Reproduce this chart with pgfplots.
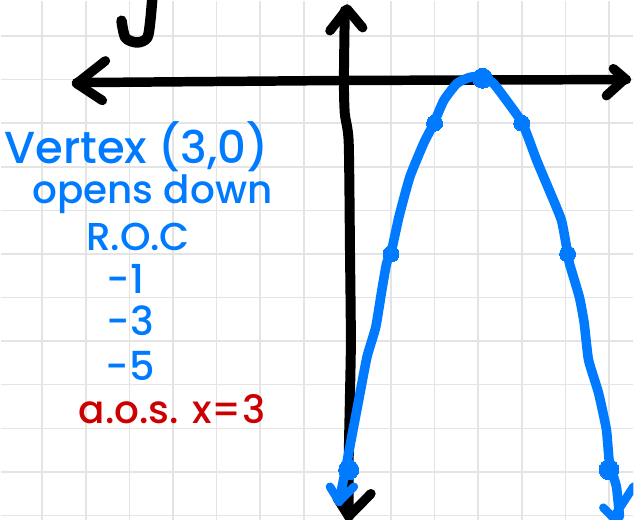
\documentclass[border=0pt]{standalone}
\usepackage{pgfplots}
\pgfplotsset{compat=1.18}
\usepackage{fontspec}
\setmainfont{Poppins Medium}
\definecolor{pen}{RGB}{0,122,255}
\definecolor{redpen}{RGB}{204,0,0}
\definecolor{paper}{RGB}{228,228,228}
\newcommand{\hand}[1]{\fontsize{#1}{#1}\selectfont}
\begin{document}
\begin{tikzpicture}
\begin{axis}[
  scale only axis, width=634pt, height=520pt,
  xmin=-7.95, xmax=6.556, ymin=-10.092, ymax=1.808,
  xtick={-7,...,6}, ytick={-10,...,1},
  xticklabels={}, yticklabels={},
  tick label style={overlay},
  major tick length=0pt,
  axis line style={draw=none},
  grid=major,
  grid style={paper, line width=1.5pt},
  every axis plot/.append style={line cap=round, line join=round},
]
% black axes, drawn by hand
\addplot[black, line width=9.5pt] coordinates {(-6.21,-0.07) (0,-0.02) (6.40,0)};
\addplot[black, line width=9.5pt] coordinates {(-5.55,0.43) (-6.21,-0.09) (-5.62,-0.48)};
\addplot[black, line width=9.5pt] coordinates {(6.10,0.25) (6.37,0.02) (5.94,-0.37)};
\addplot[black, line width=10pt, smooth, tension=0.4] coordinates {(-0.06,1.58) (-0.08,-0.02) (-0.06,-0.78) (0.03,-1.44) (0.06,-3.98) (0.08,-5.97) (0.06,-7.19) (0.03,-8.72) (0.03,-10.02)};
\addplot[black, line width=9.5pt] coordinates {(-0.40,1.12) (-0.01,1.62) (0.35,1.19)};
\addplot[black, line width=9.5pt] coordinates {(-0.24,-9.59) (0.03,-10.02) (0.54,-9.50)};
% the tail of the y at the top
\addplot[black, line width=10.5pt, smooth] coordinates {(-4.47,1.92) (-4.52,1.35) (-4.59,0.96) (-4.82,0.85) (-5.09,0.96) (-5.18,1.35)};
% parabola
\addplot[pen, line width=9.5pt, smooth, tension=0.3] coordinates {
  (-0.19,-9.68) (-0.03,-8.88) (0.10,-8.19) (0.26,-7.35) (0.45,-6.36) (0.65,-5.68)
  (0.79,-4.83) (0.90,-4.21) (1.00,-3.98) (1.18,-3.16) (1.43,-2.24) (1.75,-1.46)
  (1.98,-1.01) (2.21,-0.48) (2.51,-0.09) (2.80,0.05) (3.10,0.07) (3.35,-0.09)
  (3.65,-0.48) (4.02,-1.01) (4.34,-1.85) (4.63,-2.54) (4.91,-3.23) (5.05,-3.98)
  (5.09,-4.21) (5.32,-4.99) (5.43,-5.58) (5.53,-6.43) (5.76,-7.19) (5.94,-8.03)
  (6.01,-8.79) (6.17,-9.34) (6.24,-10.02)};
\addplot[pen, line width=8.5pt] coordinates {(-0.40,-9.34) (-0.19,-9.68) (0.15,-9.34)};
\addplot[pen, line width=8.5pt] coordinates {(5.87,-9.82) (6.10,-10.05) (6.56,-9.34)};
% plotted points
\addplot[only marks, mark=*, mark size=8pt, pen, mark options={draw=pen, fill=pen, line width=0pt}] coordinates {(2,-1) (4,-1) (1,-4) (5.05,-4)};
\addplot[only marks, mark=*, mark size=10pt, pen, mark options={draw=pen, fill=pen, line width=0pt}] coordinates {(3.1,0.03) (0.03,-8.95) (6,-8.95)};
% notes
\node[pen, font=\hand{45}] at (axis cs:-4.84,-1.55) {Vertex (3,0)};
\node[pen, font=\hand{39}] at (axis cs:-4.47,-2.62) {opens down};
\node[pen, font=\hand{39}] at (axis cs:-4.80,-3.62) {R.O.C};
\node[pen, font=\hand{40}] at (axis cs:-5.09,-4.58) {-1};
\node[pen, font=\hand{40}] at (axis cs:-4.98,-5.54) {-3};
\node[pen, font=\hand{40}] at (axis cs:-4.98,-6.57) {-5};
\node[redpen, font=\hand{39}] at (axis cs:-4.02,-7.55) {a.o.s. x=3};
\end{axis}
\end{tikzpicture}
\end{document}
